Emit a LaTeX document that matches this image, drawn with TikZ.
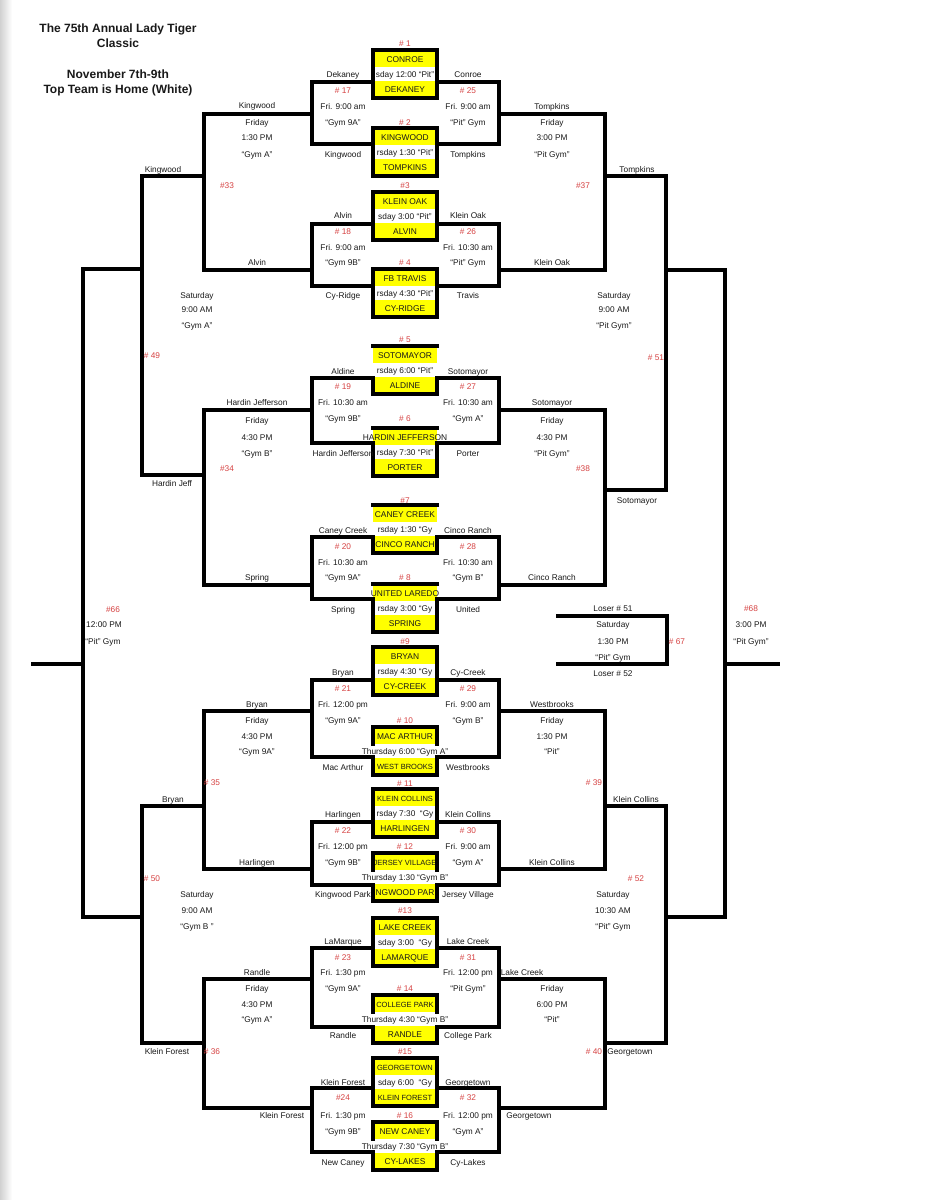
\documentclass[tikz,border=0pt]{standalone}
\usepackage{fontspec}
\setmainfont{Liberation Sans}
\definecolor{ink}{RGB}{25,25,25}
\definecolor{numred}{RGB}{214,66,66}
\definecolor{band}{RGB}{255,255,0}
\newcommand\tsm{\fontsize{7.5}{8}\selectfont}
\tikzset{
  wire/.style={line width=3.1pt, draw=black, line join=miter, line cap=rect},
  lbl/.style={font=\fontsize{8.3}{9}\selectfont, text=ink, inner sep=0pt, text height=6pt, text depth=0pt},
  num/.style={lbl, text=numred},
  team/.style={lbl, font=\fontsize{8.4}{9}\selectfont},
  ttl/.style={font=\bfseries\fontsize{12}{14}\selectfont, text=ink, inner sep=0pt, text height=8.6pt, text depth=0pt},
}
\begin{document}
\begin{tikzpicture}[x=1pt,y=-1pt]
\useasboundingbox (0,0) rectangle (943,1200);
\fill[white] (0,0) rectangle (943,1200);
\shade[left color=black!18, right color=white] (0,0) rectangle (12,1200);

% title
\node[ttl] (t1) at (118,28) {The 75th Annual Lady Tiger};
\node[ttl] (t2) at (118,43) {Classic};
\node[ttl] (t3) at (118,74) {November 7th-9th};
\node[ttl] (t4) at (118,89) {Top Team is Home (White)};

% game boxes: bands and texts
\foreach \n/\t/\ta/\tm/\tb in {
 1/50/CONROE/sday 12:00 “Pit”/DEKANEY,
 2/128/KINGWOOD/rsday 1:30 “Pit”/TOMPKINS,
 3/192/KLEIN OAK/sday 3:00 “Pit”/ALVIN,
 4/269/FB TRAVIS/rsday 4:30 “Pit”/CY-RIDGE,
 5/346/SOTOMAYOR/rsday 6:00 “Pit”/ALDINE,
 6/428/HARDIN JEFFERSON/rsday 7:30 “Pit”/PORTER,
 7/505/CANEY CREEK/rsday 1:30 “Gy/CINCO RANCH,
 8/584/UNITED LAREDO/rsday 3:00 “Gy/SPRING,
 9/647/BRYAN/rsday 4:30 “Gy/CY-CREEK,
 10/727/MAC ARTHUR/Thursday 6:00 “Gym A”/\tsm WEST BROOKS,
 11/789/\tsm KLEIN COLLINS/rsday 7:30\ \ “Gy/HARLINGEN,
 12/853/\tsm JERSEY VILLAGE/Thursday 1:30 “Gym B”/NGWOOD PAR,
 13/918/LAKE CREEK/sday 3:00\ \ “Gy/LAMARQUE,
 14/995/\tsm COLLEGE PARK/Thursday 4:30 “Gym B”/RANDLE,
 15/1058/\tsm GEORGETOWN/sday 6:00\ \ “Gy/\tsm KLEIN FOREST,
 16/1122/NEW CANEY/Thursday 7:30 “Gym B”/CY-LAKES}
{
 \fill[band] (373,\t+1.4) rectangle (437,\t+17);
 \fill[band] (373,\t+31) rectangle (437,\t+46.6);
 \node[team] (g\n-a) at (405,\t+9.5) {\ta};
 \node[lbl] (g\n-m) at (405,\t+24) {\tm};
 \node[team] (g\n-b) at (405,\t+39) {\tb};
}

% box borders
\foreach \t in {50,128,192,269,647,789,918,1058}
  \draw[wire] (373,\t) rectangle (437,\t+48);
\foreach \t/\s in {346/378, 428/443, 505/537, 584/599} {
  \draw[wire] (373,\t) -- (437,\t);
  \draw[wire] (373,\s) -- (373,\t+48) -- (437,\t+48) -- (437,\s);
}
\foreach \t/\s in {727/757, 853/885, 995/1027, 1122/1152} {
  \draw[wire] (373,\t+17) -- (373,\t) -- (437,\t) -- (437,\t+17);
  \draw[wire] (373,\s) -- (373,\t+48) -- (437,\t+48) -- (437,\s);
}

% game numbers
\foreach \y/\s [count=\k] in {43/\# 1, 122/\# 2, 185/\#3, 262/\# 4, 339/\# 5, 418/\# 6, 500/\#7, 577/\# 8,
  641/\#9, 720/\# 10, 783/\# 11, 846/\# 12, 910/\#13, 988/\# 14, 1051/\#15, 1115/\# 16}
  \node[num] (gn\k) at (405,\y) {\s};

% first round brackets
\foreach \a/\b/\s [count=\k] in {82/144/114, 224/286/270, 378/443/410, 537/599/585,
  680/757/711, 822/885/869, 948/1027/979, 1088/1152/1108} {
  \coordinate (la\k) at (373,\a); \coordinate (lb\k) at (373,\b);
  \coordinate (ra\k) at (437,\a); \coordinate (rb\k) at (437,\b);
  \coordinate (ls\k) at (312,\s); \coordinate (rs\k) at (499,\s);
  \draw[wire] (la\k) -- ++(-61,0) |- (lb\k);
  \draw[wire] (ra\k) -- ++(62,0) |- (rb\k);
}

% second round
\foreach \p/\q/\m [count=\k] in {1/2/176, 3/4/475, 5/6/806, 7/8/1043} {
  \draw[wire] (ls\p) -- ++(-108,0) |- (ls\q);
  \coordinate (lm\k) at (204,\m);
  \draw[wire] (lm\k) -- (142,\m) coordinate (lq\k);
}
\foreach \p/\q/\m [count=\k] in {1/2/176, 3/4/490, 5/6/806, 7/8/1043} {
  \draw[wire] (rs\p) -- ++(106,0) |- (rs\q);
  \coordinate (rm\k) at (605,\m);
  \draw[wire] (rm\k) -- (666,\m) coordinate (rq\k);
}

% third round
\draw[wire] (lq1) -- (lq2);
\draw[wire] (lq3) -- (lq4);
\draw[wire] (rq1) -- (rq2);
\draw[wire] (rq3) -- (rq4);
\coordinate (l49) at (142,269); \coordinate (l50) at (142,917);
\coordinate (r51) at (666,270); \coordinate (r52) at (666,917);
\coordinate (f66t) at (83,269); \coordinate (f66b) at (83,917);
\coordinate (f68t) at (725,270); \coordinate (f68b) at (725,917);
\draw[wire] (l49) -- (f66t) -- (f66b) -- (l50);
\draw[wire] (r51) -- (f68t) -- (f68b) -- (r52);
\coordinate (f66m) at (83,664); \coordinate (f66e) at (33,664);
\coordinate (f68m) at (725,664); \coordinate (f68e) at (778,664);
\draw[wire] (f66m) -- (f66e);
\draw[wire] (f68m) -- (f68e);
% consolation #67
\coordinate (c67a) at (558,616); \coordinate (c67b) at (558,664);
\draw[wire] (c67a) -- ++(109,0) |- (c67b);

% first round labels, left column
\foreach \y/\s [count=\k] in {74/Dekaney, 106/Fri. 9:00 am, 122/“Gym 9A”, 154/Kingwood,
  215/Alvin, 247/Fri. 9:00 am, 262/“Gym 9B”, 295/Cy-Ridge,
  371/Aldine, 402/Fri. 10:30 am, 418/“Gym 9B”, 453/Hardin Jefferson,
  530/Caney Creek, 562/Fri. 10:30 am, 577/“Gym 9A”, 609/Spring,
  672/Bryan, 704/Fri. 12:00 pm, 720/“Gym 9A”, 767/Mac Arthur,
  814/Harlingen, 846/Fri. 12:00 pm, 862/“Gym 9B”, 894/Kingwood Park,
  941/LaMarque, 972/Fri. 1:30 pm, 988/“Gym 9A”, 1035/Randle,
  1082/Klein Forest, 1115/Fri. 1:30 pm, 1131/“Gym 9B”, 1162/New Caney}
  \node[lbl] (lc\k) at (343,\y) {\s};
\foreach \y/\s [count=\k] in {90/\# 17, 231/\# 18, 386/\# 19, 546/\# 20, 688/\# 21, 830/\# 22, 957/\# 23, 1097/\#24}
  \node[num] (lr\k) at (343,\y) {\s};

% first round labels, right column
\foreach \y/\s [count=\k] in {74/Conroe, 106/Fri. 9:00 am, 122/“Pit” Gym, 154/Tompkins,
  215/Klein Oak, 247/Fri. 10:30 am, 262/“Pit” Gym, 295/Travis,
  371/Sotomayor, 402/Fri. 10:30 am, 418/“Gym A”, 453/Porter,
  530/Cinco Ranch, 562/Fri. 10:30 am, 577/“Gym B”, 609/United,
  672/Cy-Creek, 704/Fri. 9:00 am, 720/“Gym B”, 767/Westbrooks,
  814/Klein Collins, 846/Fri. 9:00 am, 862/“Gym A”, 894/Jersey Village,
  941/Lake Creek, 972/Fri. 12:00 pm, 988/“Pit Gym”, 1035/College Park,
  1082/Georgetown, 1115/Fri. 12:00 pm, 1131/“Gym A”, 1162/Cy-Lakes}
  \node[lbl] (rc\k) at (468,\y) {\s};
\foreach \y/\s [count=\k] in {90/\# 25, 231/\# 26, 386/\# 27, 546/\# 28, 688/\# 29, 830/\# 30, 957/\# 31, 1097/\# 32}
  \node[num] (rr\k) at (468,\y) {\s};

% second round labels, left
\foreach \y/\s [count=\k] in {105/Kingwood, 122/Friday, 137/1:30 PM, 154/“Gym A”, 262/Alvin,
  402/Hardin Jefferson, 420/Friday, 437/4:30 PM, 453/“Gym B”, 577/Spring,
  704/Bryan, 720/Friday, 736/4:30 PM, 751/“Gym 9A”, 862/Harlingen,
  972/Randle, 988/Friday, 1004/4:30 PM, 1019/“Gym A”}
  \node[lbl] (sl\k) at (257,\y) {\s};
\node[lbl] (sl20) at (282,1115) {Klein Forest};
\node[num] (n33) at (227,185) {\#33};
\node[num] (n34) at (227,468) {\#34};
\node[num] (n35) at (212,782) {\# 35};
\node[num] (n36) at (212,1051) {\# 36};

% second round labels, right
\foreach \y/\s [count=\k] in {106/Tompkins, 122/Friday, 137/3:00 PM, 154/“Pit Gym”, 262/Klein Oak,
  402/Sotomayor, 420/Friday, 437/4:30 PM, 453/“Pit Gym”, 577/Cinco Ranch,
  704/Westbrooks, 720/Friday, 736/1:30 PM, 751/“Pit”, 862/Klein Collins,
  988/Friday, 1004/6:00 PM, 1019/“Pit”}
  \node[lbl] (sr\k) at (552,\y) {\s};
\node[lbl] (sr19) at (522,972) {Lake Creek};
\node[lbl] (sr20) at (529,1115) {Georgetown};
\node[num] (n37) at (583,185) {\#37};
\node[num] (n38) at (583,468) {\#38};
\node[num] (n39) at (594,782) {\# 39};
\node[num] (n40) at (594,1051) {\# 40};

% third round labels
\node[lbl] (q1) at (163,169) {Kingwood};
\node[lbl] (q2) at (197,295) {Saturday};
\node[lbl] (q3) at (197,309) {9:00 AM};
\node[lbl] (q4) at (197,325) {“Gym A”};
\node[num] (n49) at (152,355) {\# 49};
\node[lbl] (q5) at (172,483) {Hardin Jeff};
\node[lbl] (q6) at (173,799) {Bryan};
\node[num] (n50) at (152,878) {\# 50};
\node[lbl] (q7) at (197,894) {Saturday};
\node[lbl] (q8) at (197,910) {9:00 AM};
\node[lbl] (q9) at (197,926) {“Gym B ”};
\node[lbl] (q10) at (167,1051) {Klein Forest};

\node[lbl] (p1) at (637,169) {Tompkins};
\node[lbl] (p2) at (614,295) {Saturday};
\node[lbl] (p3) at (614,309) {9:00 AM};
\node[lbl] (p4) at (614,325) {“Pit Gym”};
\node[num] (n51) at (656,357) {\# 51};
\node[lbl] (p5) at (637,500) {Sotomayor};
\node[lbl] (p6) at (636,799) {Klein Collins};
\node[num] (n52) at (636,878) {\# 52};
\node[lbl] (p7) at (613,894) {Saturday};
\node[lbl] (p8) at (613,910) {10:30 AM};
\node[lbl] (p9) at (613,926) {“Pit” Gym};
\node[lbl] (p10) at (630,1051) {Georgetown};

% consolation and finals labels
\node[lbl] (c1) at (613,608) {Loser \# 51};
\node[lbl] (c2) at (613,624) {Saturday};
\node[lbl] (c3) at (613,641) {1:30 PM};
\node[lbl] (c4) at (613,657) {“Pit” Gym};
\node[lbl] (c5) at (613,673) {Loser \# 52};
\node[num] (n67) at (677,641) {\# 67};

\node[num] (n66) at (113,609) {\#66};
\node[lbl] (f1) at (104,624) {12:00 PM};
\node[lbl] (f2) at (103,641) {“Pit” Gym};

\node[num] (n68) at (751,608) {\#68};
\node[lbl] (f3) at (751,624) {3:00 PM};
\node[lbl] (f4) at (751,641) {“Pit Gym”};
\end{tikzpicture}
\end{document}
